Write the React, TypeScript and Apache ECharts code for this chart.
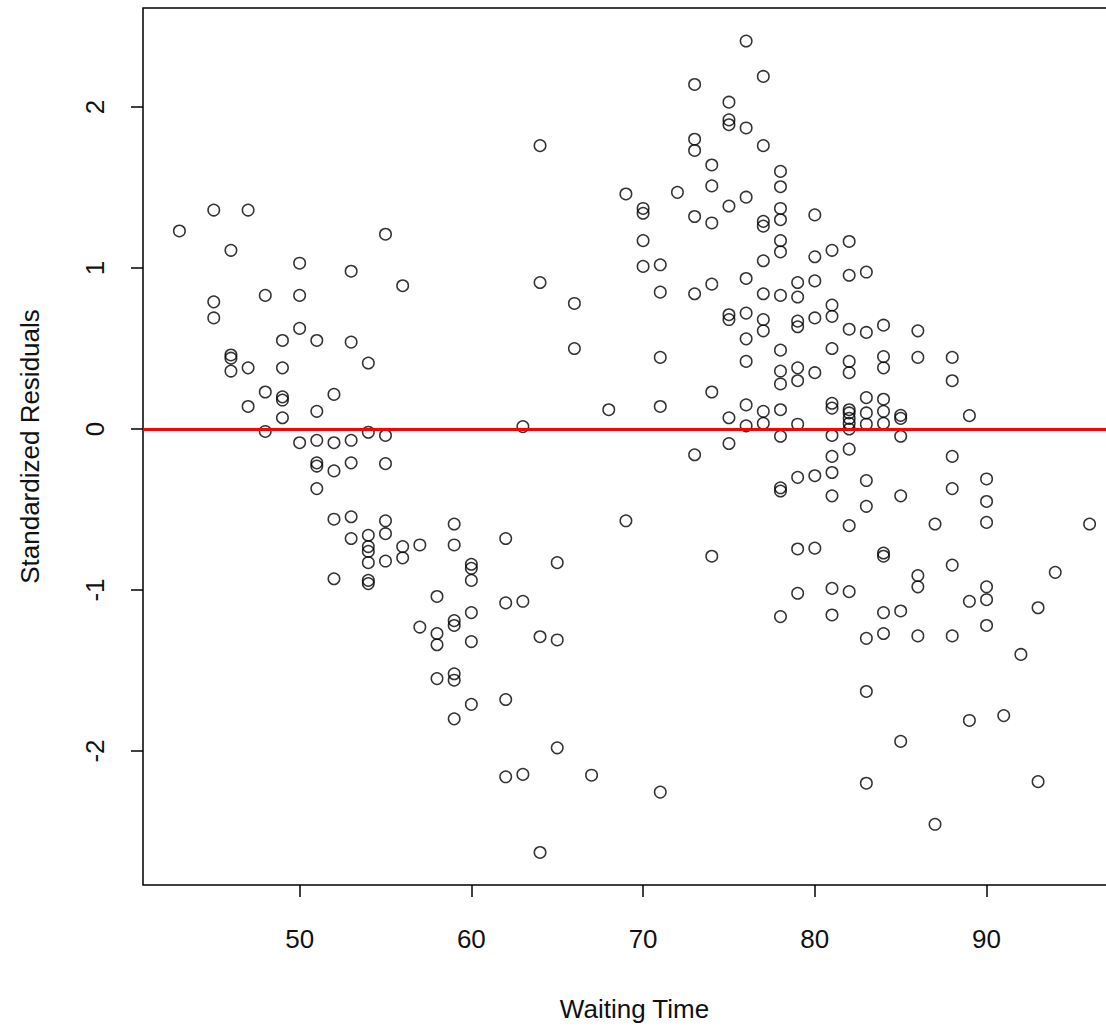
import React, { useEffect, useRef } from "react";
import * as echarts from "echarts";

// Waiting times (x) and the standardized residuals observed at each one
const waitingTimes = [43, 45, 46, 47, 48, 49, 50, 51, 52, 53, 54, 55, 56, 57, 58, 59, 60, 62, 63, 64, 65, 66, 67, 68, 69, 70, 71, 72, 73, 74, 75, 76, 77, 78, 79, 80, 81, 82, 83, 84, 85, 86, 87, 88, 89, 90, 91, 92, 93, 94, 96];
const residualGroups = [
  [1.23],
  [1.36, 0.79, 0.69],
  [1.11, 0.46, 0.44, 0.36],
  [1.36, 0.38, 0.14],
  [0.83, 0.23, -0.015],
  [0.55, 0.38, 0.2, 0.18, 0.07],
  [1.03, 0.83, 0.625, -0.085],
  [0.55, 0.11, -0.07, -0.21, -0.23, -0.37],
  [0.215, -0.085, -0.26, -0.56, -0.93],
  [0.98, 0.54, -0.07, -0.21, -0.545, -0.68],
  [0.41, -0.02, -0.66, -0.73, -0.76, -0.83, -0.94, -0.96],
  [1.21, -0.04, -0.215, -0.57, -0.65, -0.82],
  [0.89, -0.73, -0.8],
  [-0.72, -1.23],
  [-1.04, -1.27, -1.34, -1.55],
  [-0.59, -0.72, -1.19, -1.22, -1.52, -1.56, -1.8],
  [-0.84, -0.865, -0.94, -1.14, -1.32, -1.71],
  [-0.68, -1.08, -1.68, -2.16],
  [0.015, -1.07, -2.145],
  [1.76, 0.91, -1.29, -2.63],
  [-0.83, -1.31, -1.98],
  [0.78, 0.5],
  [-2.15],
  [0.12],
  [1.46, -0.57],
  [1.37, 1.34, 1.17, 1.01],
  [1.02, 0.85, 0.445, 0.14, -2.255],
  [1.47],
  [2.14, 1.8, 1.73, 1.32, 0.84, -0.16],
  [1.64, 1.51, 1.28, 0.9, 0.23, -0.79],
  [2.03, 1.92, 1.89, 1.385, 0.71, 0.68, 0.07, -0.09],
  [2.41, 1.87, 1.44, 0.935, 0.72, 0.56, 0.42, 0.15, 0.02],
  [2.19, 1.76, 1.29, 1.26, 1.045, 0.84, 0.68, 0.61, 0.11, 0.035],
  [1.6, 1.505, 1.37, 1.3, 1.17, 1.1, 0.83, 0.49, 0.36, 0.28, 0.12, -0.045, -0.365, -0.385, -1.165],
  [0.91, 0.82, 0.67, 0.635, 0.38, 0.3, 0.03, -0.3, -0.745, -1.02],
  [1.33, 1.07, 0.92, 0.69, 0.35, -0.29, -0.74],
  [1.11, 0.77, 0.7, 0.5, 0.16, 0.13, -0.04, -0.17, -0.27, -0.415, -0.99, -1.155],
  [1.165, 0.955, 0.62, 0.42, 0.35, 0.12, 0.1, 0.066, 0.035, 0.0, -0.125, -0.6, -1.01],
  [0.975, 0.6, 0.195, 0.1, 0.03, -0.32, -0.48, -1.3, -1.63, -2.2],
  [0.645, 0.45, 0.38, 0.185, 0.11, 0.035, -0.77, -0.79, -1.14, -1.27],
  [0.085, 0.066, -0.045, -0.415, -1.13, -1.94],
  [0.61, 0.445, -0.91, -0.98, -1.285],
  [-0.59, -2.455],
  [0.445, 0.3, -0.17, -0.37, -0.845, -1.285],
  [0.083, -1.07, -1.81],
  [-0.31, -0.45, -0.58, -0.98, -1.06, -1.22],
  [-1.78],
  [-1.4],
  [-1.11, -2.19],
  [-0.89],
  [-0.59],
];

const xTicks = [50, 60, 70, 80, 90];
const yTicks = [-2, -1, 0, 1, 2];
const xRange = [40.88, 98.12];
const yRange = [-2.832, 2.615];
const referenceLevel = 0;

const FONT = "Liberation Sans, Arial, sans-serif";
const TEXT_COLOR = "#111";

export default function App() {
  const ref = useRef<HTMLDivElement>(null);

  useEffect(() => {
    if (!ref.current) return;
    const chart = echarts.init(ref.current, null, { renderer: "svg" });

    const points: [number, number][] = [];
    waitingTimes.forEach((w, i) => {
      residualGroups[i].forEach((r) => points.push([w, r]));
    });

    chart.setOption({
      animation: false,
      backgroundColor: "#ffffff",
      grid: {
        left: 143,
        top: 8,
        width: 983,
        height: 877,
        show: true,
        borderColor: "#000",
        borderWidth: 1.5,
        backgroundColor: "transparent",
      },
      xAxis: {
        type: "value",
        min: xRange[0],
        max: xRange[1],
        name: "Waiting Time",
        nameLocation: "middle",
        nameGap: 111,
        nameTextStyle: { fontFamily: FONT, fontSize: 26, color: TEXT_COLOR },
        axisLine: { show: false, onZero: false },
        splitLine: { show: false },
        axisTick: {
          show: true,
          length: 12,
          customValues: xTicks,
          lineStyle: { color: "#000", width: 1.5 },
        },
        axisLabel: {
          customValues: xTicks,
          margin: 41,
          fontFamily: FONT,
          fontSize: 26,
          color: TEXT_COLOR,
        },
      },
      yAxis: {
        type: "value",
        min: yRange[0],
        max: yRange[1],
        name: "Standardized Residuals",
        nameLocation: "middle",
        nameGap: 100,
        nameRotate: 90,
        nameTextStyle: { fontFamily: FONT, fontSize: 26, color: TEXT_COLOR },
        axisLine: { show: false, onZero: false },
        splitLine: { show: false },
        axisTick: {
          show: true,
          length: 12,
          customValues: yTicks,
          lineStyle: { color: "#000", width: 1.5 },
        },
        axisLabel: {
          customValues: yTicks,
          rotate: 90,
          margin: 35,
          fontFamily: FONT,
          fontSize: 26,
          color: TEXT_COLOR,
        },
      },
      series: [
        {
          type: "scatter",
          data: points,
          symbol: "circle",
          symbolSize: 11.5,
          itemStyle: {
            color: "rgba(0,0,0,0)",
            borderColor: "#000",
            borderWidth: 1.5,
          },
          emphasis: { disabled: true },
          markLine: {
            silent: true,
            symbol: ["none", "none"],
            label: { show: false },
            lineStyle: { color: "#ff0000", width: 3, type: "solid" },
            data: [{ yAxis: referenceLevel }],
          },
        },
      ],
    });

    return () => chart.dispose();
  }, []);

  return (
    <div
      style={{
        position: "absolute",
        left: 0,
        top: 0,
        width: 1106,
        height: 1029,
        overflow: "hidden",
        background: "#fff",
      }}
    >
      <div ref={ref} style={{ width: 1140, height: 1029 }} />
    </div>
  );
}
